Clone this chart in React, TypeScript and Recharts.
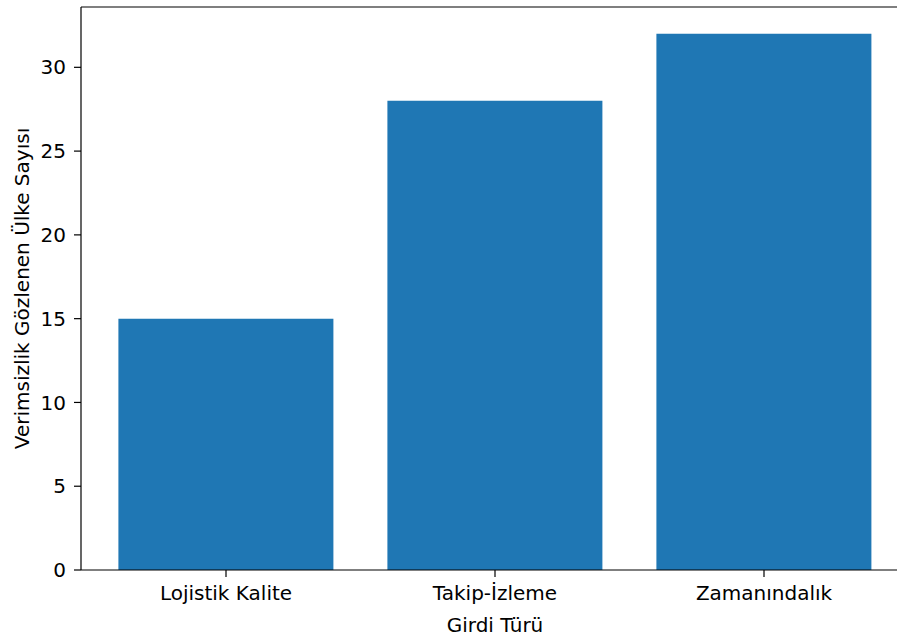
import React from "react";
import { BarChart, Bar, XAxis, YAxis, ReferenceLine, Label } from "recharts";

const categories = ["Lojistik Kalite", "Takip-İzleme", "Zamanındalık"];
const countValues = [15, 28, 32];
const yTicks = [0, 5, 10, 15, 20, 25, 30];
const xAxisTitle = "Girdi Türü";
const yAxisTitle = "Verimsizlik Gözlenen Ülke Sayısı";

const data = categories.map((c, i) => ({ category: c, value: countValues[i] }));

const FONT = "'DejaVu Sans', sans-serif";
const FS = 20;

const XTitle = (props: any) => {
  const vb = props.viewBox || {};
  return (
    <text
      x={vb.x + vb.width / 2}
      y={vb.y + vb.height - 7}
      textAnchor="middle"
      fontFamily={FONT}
      fontSize={FS}
      fill="#000"
    >
      {xAxisTitle}
    </text>
  );
};

const YTitle = (props: any) => {
  const vb = props.viewBox || {};
  const x = vb.x + 29;
  const y = vb.y + vb.height / 2;
  return (
    <text
      x={x}
      y={y}
      textAnchor="middle"
      transform={`rotate(-90, ${x}, ${y})`}
      fontFamily={FONT}
      fontSize={FS}
      fill="#000"
    >
      {yAxisTitle}
    </text>
  );
};

export default function App() {
  return (
    <div
      style={{
        position: "absolute",
        left: 0,
        top: 0,
        width: 897,
        height: 639,
        overflow: "hidden",
        background: "#fff",
      }}
    >
      <BarChart
        width={920}
        height={639}
        data={data}
        margin={{ top: 7, right: 11, bottom: 0, left: 0 }}
        barCategoryGap="10%"
      >
        <XAxis
          dataKey="category"
          height={69}
          padding={{ left: 10.5, right: 10.5 }}
          tickSize={7}
          tickMargin={9}
          axisLine={{ stroke: "#000", strokeWidth: 1.2 }}
          tickLine={{ stroke: "#000", strokeWidth: 1.2 }}
          tick={{ fill: "#000", fontFamily: FONT, fontSize: FS }}
          interval={0}
        >
          <Label content={<XTitle />} />
        </XAxis>
        <YAxis
          width={81}
          domain={[0, 33.6]}
          ticks={yTicks}
          tickSize={7}
          tickMargin={8}
          axisLine={{ stroke: "#000", strokeWidth: 1.2 }}
          tickLine={{ stroke: "#000", strokeWidth: 1.2 }}
          tick={{ fill: "#000", fontFamily: FONT, fontSize: FS }}
          allowDataOverflow
        >
          <Label content={<YTitle />} />
        </YAxis>
        <ReferenceLine y={33.6} stroke="#000" strokeWidth={1.2} ifOverflow="visible" />
        <Bar dataKey="value" fill="#1f77b4" isAnimationActive={false} />
      </BarChart>
    </div>
  );
}
